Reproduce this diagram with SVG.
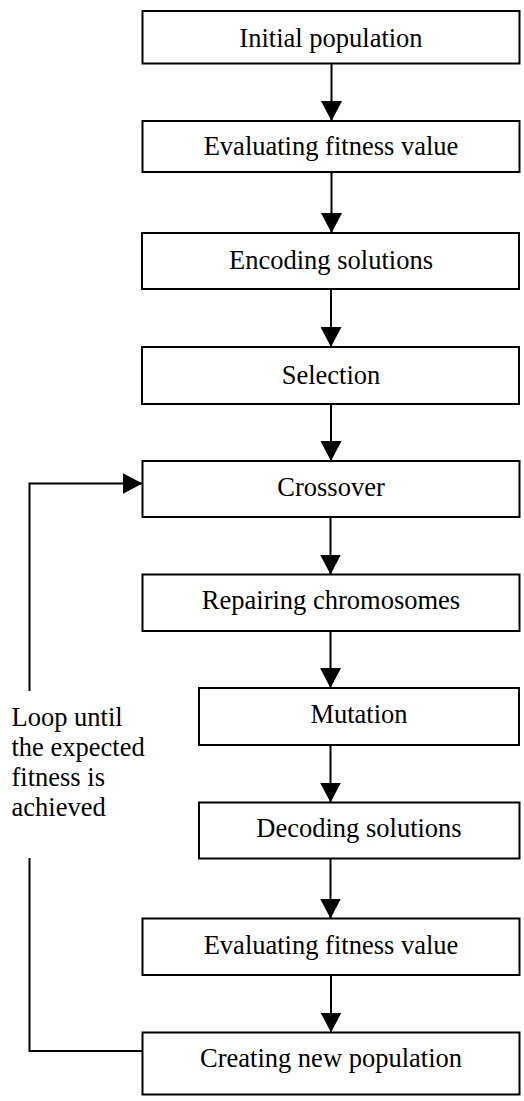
<svg xmlns="http://www.w3.org/2000/svg" width="524" height="1101" viewBox="0 0 524 1101">
<style>
.box{fill:#fff;stroke:#000;stroke-width:2}
.lbl{font-family:"Liberation Serif","Times New Roman",serif;font-size:26.5px;fill:#000;text-anchor:middle}
.note{font-family:"Liberation Serif","Times New Roman",serif;font-size:26.5px;fill:#000}
.con{fill:none;stroke:#000;stroke-width:2}
</style>
<defs>
<marker id="ah" viewBox="0 0 20 21" refX="20" refY="10.5" markerWidth="20" markerHeight="21" markerUnits="userSpaceOnUse" orient="auto">
<path d="M0,0 L20,10.5 L0,21 z" fill="#000"/>
</marker>
</defs>
<rect width="524" height="1101" fill="#fff"/>
<g id="n1"><rect class="box" x="142.5" y="11" width="377" height="52.5"/><text class="lbl" x="331" y="46.5">Initial population</text></g>
<g id="n2"><rect class="box" x="142.5" y="121" width="377" height="51"/><text class="lbl" x="331" y="154.5">Evaluating fitness value</text></g>
<g id="n3"><rect class="box" x="142" y="233" width="377" height="56"/><text class="lbl" x="331" y="268.5">Encoding solutions</text></g>
<g id="n4"><rect class="box" x="142" y="347" width="377" height="57"/><text class="lbl" x="331" y="383.5">Selection</text></g>
<g id="n5"><rect class="box" x="142.5" y="461" width="377" height="56"/><text class="lbl" x="331" y="496">Crossover</text></g>
<g id="n6"><rect class="box" x="142.5" y="574.5" width="377" height="56.5"/><text class="lbl" x="331" y="609">Repairing chromosomes</text></g>
<g id="n7"><rect class="box" x="199" y="688" width="320" height="57"/><text class="lbl" x="359" y="723">Mutation</text></g>
<g id="n8"><rect class="box" x="199" y="802.5" width="320.5" height="56"/><text class="lbl" x="359" y="836.5">Decoding solutions</text></g>
<g id="n9"><rect class="box" x="142.5" y="918.5" width="377" height="56.5"/><text class="lbl" x="331" y="953.5">Evaluating fitness value</text></g>
<g id="n10"><rect class="box" x="142.5" y="1032.5" width="377" height="62"/><text class="lbl" x="331" y="1067">Creating new population</text></g>
<g id="connectors">
<line class="con" x1="331.5" y1="64" x2="331.5" y2="121" marker-end="url(#ah)"/>
<line class="con" x1="331.5" y1="172" x2="331.5" y2="233" marker-end="url(#ah)"/>
<line class="con" x1="331" y1="289" x2="331" y2="347" marker-end="url(#ah)"/>
<line class="con" x1="331" y1="404" x2="331" y2="461" marker-end="url(#ah)"/>
<line class="con" x1="330.5" y1="517" x2="330.5" y2="574.5" marker-end="url(#ah)"/>
<line class="con" x1="330.5" y1="631" x2="330.5" y2="688" marker-end="url(#ah)"/>
<line class="con" x1="330.5" y1="745" x2="330.5" y2="802.5" marker-end="url(#ah)"/>
<line class="con" x1="330.5" y1="858.5" x2="330.5" y2="918.5" marker-end="url(#ah)"/>
<line class="con" x1="331" y1="975" x2="331" y2="1032.5" marker-end="url(#ah)"/>
<polyline class="con" points="142.5,1051 29.5,1051 29.5,858"/>
<polyline class="con" points="29.5,691 29.5,483.5 142.5,483.5" marker-end="url(#ah)"/>
</g>
<g id="loop-label">
<text class="note" x="11.5" y="726">Loop until</text>
<text class="note" x="11.5" y="756">the expected</text>
<text class="note" x="11.5" y="786">fitness is</text>
<text class="note" x="11.5" y="816">achieved</text>
</g>
</svg>
